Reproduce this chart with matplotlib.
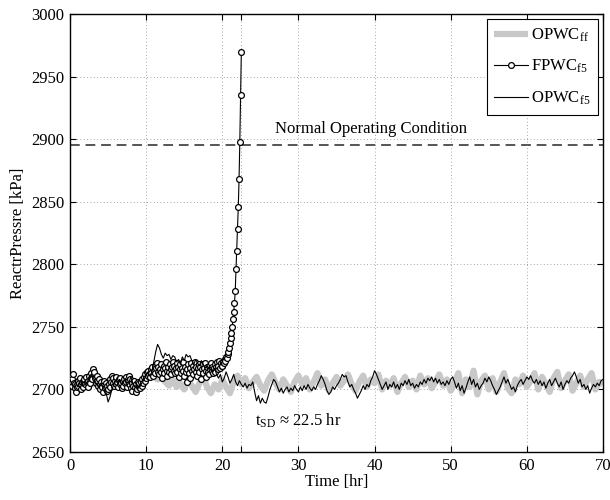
import numpy as np
import matplotlib
matplotlib.use("Agg")
import matplotlib.pyplot as plt

# ---------------- data ----------------
# OPWC_f5 (thin black), t = 0 .. 70 step 0.25 hr
opwc_f5 = [
    2708, 2704, 2703, 2706, 2702, 2705, 2707, 2703, 2704,
    2706, 2709, 2712, 2710, 2707, 2704, 2702, 2705,
    2703, 2700, 2697, 2690, 2694, 2700, 2704, 2707,
    2705, 2708, 2704, 2706, 2709, 2703, 2706, 2710,
    2705, 2702, 2704, 2701, 2703, 2706, 2708, 2712,
    2713, 2711, 2714, 2722, 2730, 2736, 2733, 2728,
    2725, 2729, 2727, 2728, 2724, 2727, 2726, 2722,
    2724, 2720, 2726, 2723, 2728, 2726, 2727, 2723,
    2720, 2724, 2721, 2719, 2723, 2720, 2717, 2719,
    2716, 2718, 2714, 2717, 2712, 2709, 2712, 2706,
    2709, 2714, 2710, 2705, 2708, 2712, 2706, 2703,
    2707, 2704, 2702, 2705, 2701, 2704, 2703, 2706,
    2698, 2691, 2695, 2689, 2693, 2690, 2689, 2694,
    2700, 2704, 2708, 2706, 2702, 2698, 2701, 2697,
    2700, 2702, 2698, 2701, 2699, 2703, 2700, 2698,
    2702, 2699, 2703, 2700, 2704, 2701, 2699, 2702,
    2700, 2704, 2707, 2711, 2708, 2704, 2699, 2696,
    2698, 2702, 2700, 2703, 2705, 2708, 2712, 2710,
    2711, 2706, 2702, 2704, 2700, 2697, 2693, 2696,
    2699, 2703, 2700, 2704, 2702, 2707, 2710, 2715,
    2712, 2708, 2704, 2700, 2703, 2706, 2700, 2704,
    2702, 2706, 2701, 2704, 2700, 2705, 2703, 2707,
    2704, 2708, 2703, 2705, 2701, 2704, 2702, 2706,
    2704, 2708, 2705, 2709, 2707, 2710, 2706, 2709,
    2705, 2708, 2704, 2706, 2703, 2707, 2704, 2708,
    2710, 2706, 2701, 2705, 2699, 2703, 2697, 2701,
    2706, 2710, 2704, 2708, 2702, 2705, 2700, 2703,
    2705, 2709, 2706, 2710, 2707, 2703, 2700, 2696,
    2699, 2702, 2706, 2710, 2705, 2708, 2704, 2700,
    2702, 2698, 2703, 2706, 2708, 2704, 2707, 2710,
    2708, 2711, 2707, 2705, 2708, 2704, 2707, 2703,
    2706, 2701, 2705, 2708, 2703, 2706, 2709, 2705,
    2702, 2706, 2700, 2704, 2707, 2705, 2709, 2711,
    2714, 2710, 2705, 2708, 2702, 2704, 2700, 2703,
    2697, 2701, 2704, 2702, 2705, 2703, 2707, 2708,
]
t_opwc_f5 = np.arange(len(opwc_f5)) * 0.25

# OPWC_ff (thick grey), t = 0 .. 70 step 0.5 hr
opwc_ff = [
    2706, 2704, 2707, 2703, 2705, 2708, 2704, 2706, 2703, 2705,
    2702, 2704, 2707, 2705, 2703, 2706, 2704, 2702, 2705, 2707,
    2709, 2712, 2710, 2708, 2711, 2706, 2703, 2708, 2702, 2705,
    2700, 2707, 2703, 2698, 2705, 2710, 2702, 2697, 2704, 2700,
    2708, 2702, 2697, 2706, 2711, 2704, 2709, 2701, 2706, 2710,
    2703, 2699, 2707, 2712, 2705, 2700, 2708, 2703, 2698, 2706,
    2711, 2704, 2709, 2700, 2706, 2713, 2703, 2708, 2699, 2705,
    2710, 2703, 2707, 2712, 2704, 2699, 2706, 2711, 2702, 2708,
    2705, 2712, 2700, 2707, 2703, 2709, 2698, 2705, 2710, 2702,
    2707, 2700, 2711, 2704, 2709, 2701, 2706, 2712, 2703, 2708,
    2699, 2706, 2713, 2697, 2708, 2702, 2715, 2696, 2707, 2711,
    2700, 2709, 2698, 2706, 2713, 2701, 2697, 2708, 2704, 2711,
    2702, 2707, 2713, 2700, 2710, 2704, 2698, 2709, 2714, 2701,
    2707, 2712, 2699, 2705, 2711, 2702, 2708, 2713, 2700, 2706,
    2704,
]
t_opwc_ff = np.arange(len(opwc_ff)) * 0.5

# FPWC_f5 (circles), t = 0 .. 22.5 step 0.1 hr
fpwc_f5 = [
    2710, 2706, 2703, 2708, 2712, 2705, 2701, 2704, 2698, 2702,
    2707, 2703, 2705, 2709, 2704, 2700, 2706, 2702, 2705, 2708,
    2704, 2710, 2706, 2702, 2707, 2711, 2705, 2709, 2713, 2708,
    2716, 2712, 2714, 2709, 2705, 2711, 2707, 2703, 2708, 2704,
    2700, 2706, 2702, 2698, 2704, 2707, 2701, 2705, 2699, 2703,
    2700, 2704, 2708, 2702, 2706, 2711, 2705, 2709, 2703, 2707,
    2704, 2710, 2706, 2702, 2708, 2704, 2709, 2705, 2701, 2707,
    2703, 2708, 2705, 2710, 2706, 2702, 2707, 2711, 2704, 2708,
    2701, 2705, 2699, 2703, 2707, 2702, 2698, 2704, 2700, 2706,
    2702, 2705, 2701, 2706, 2703, 2708, 2705, 2710, 2707, 2712,
    2709, 2714, 2711, 2715, 2712, 2710, 2716, 2713, 2718, 2711,
    2715, 2719, 2713, 2717, 2721, 2714, 2718, 2712, 2716, 2720,
    2714, 2709, 2716, 2719, 2713, 2717, 2722, 2715, 2711, 2718,
    2714, 2720, 2716, 2712, 2718, 2722, 2715, 2719, 2713, 2717,
    2721, 2714, 2718, 2710, 2716, 2720, 2713, 2717, 2722, 2715,
    2711, 2718, 2714, 2706, 2716, 2720, 2713, 2709, 2717, 2721,
    2715, 2719, 2712, 2716, 2722, 2714, 2718, 2711, 2717, 2720,
    2714, 2718, 2708, 2716, 2720, 2713, 2717, 2721, 2715, 2710,
    2718, 2714, 2719, 2712, 2716, 2721, 2715, 2718, 2713, 2717,
    2720, 2714, 2718, 2722, 2716, 2719, 2723, 2717, 2721, 2719,
    2719, 2722, 2721, 2724, 2723, 2726, 2725, 2728, 2730, 2733,
    2737, 2741, 2745, 2750, 2756, 2762, 2769, 2779, 2796, 2811,
    2828, 2846, 2868, 2898, 2935, 2970,
]
t_fpwc_f5 = np.arange(len(fpwc_f5)) * 0.1

normal_level = 2895
t_sd = 22.5
xticks = [0, 10, 20, 22.5, 30, 40, 50, 60, 70]
xticklabels = ["0", "10", "20", "", "30", "40", "50", "60", "70"]
yticks = [2650, 2700, 2750, 2800, 2850, 2900, 2950, 3000]

# ---------------- style ----------------
plt.rcParams['font.family'] = ['Liberation Serif', 'DejaVu Serif']
plt.rcParams['mathtext.fontset'] = 'custom'
plt.rcParams['mathtext.rm'] = 'Liberation Serif'
plt.rcParams['mathtext.it'] = 'Liberation Serif:italic'
plt.rcParams['font.size'] = 12

fig = plt.figure(figsize=(6.1, 5.0), dpi=100)
ax = fig.add_axes([0.1148, 0.096, 0.8737, 0.876])

ax.plot(t_opwc_ff, opwc_ff, color='#c8c8c8', lw=4.5, solid_capstyle='butt',
        label=r'OPWC$_{\rm ff}$', zorder=2)
ax.plot(t_fpwc_f5, fpwc_f5, color='black', lw=0.8, marker='o', markersize=4.2,
        markerfacecolor='white', markeredgecolor='black', markeredgewidth=0.9,
        label=r'FPWC$_{\rm f5}$', zorder=3)
ax.plot(t_opwc_f5, opwc_f5, color='black', lw=0.8,
        label=r'OPWC$_{\rm f5}$', zorder=4)

ax.axhline(normal_level, color='#555555', lw=1.4, ls=(0, (5, 3)), zorder=1)
ax.text(39.5, 2908, 'Normal Operating Condition', ha='center', va='center', fontsize=12)
ax.text(24.3, 2675, r't$_{\rm SD}$ ≈ ' + f'{t_sd} hr', ha='left', va='center', fontsize=12)

ax.set_xlim(0, 70)
ax.set_ylim(2650, 3000)
ax.set_xticks(xticks)
ax.set_xticklabels(xticklabels)
ax.set_yticks(yticks)
ax.grid(True, ls=(0, (1, 3)), color='#888888', lw=0.6)
ax.tick_params(direction='in', top=True, right=True, length=4, width=0.8, labelsize=12, pad=4)
for s in ax.spines.values():
    s.set_linewidth(1.0)

ax.set_xlabel('Time [hr]', fontsize=12, labelpad=0)
ax.set_ylabel('ReactrPressre [kPa]', fontsize=12, labelpad=4)

leg = ax.legend(loc='upper right', fancybox=False, edgecolor='black', framealpha=1,
                handlelength=2.0, handletextpad=0.2, labelspacing=0.85,
                borderaxespad=0.3, borderpad=0.45, fontsize=12)
leg.get_frame().set_linewidth(0.8)

fig.savefig('out.png', dpi=100)
